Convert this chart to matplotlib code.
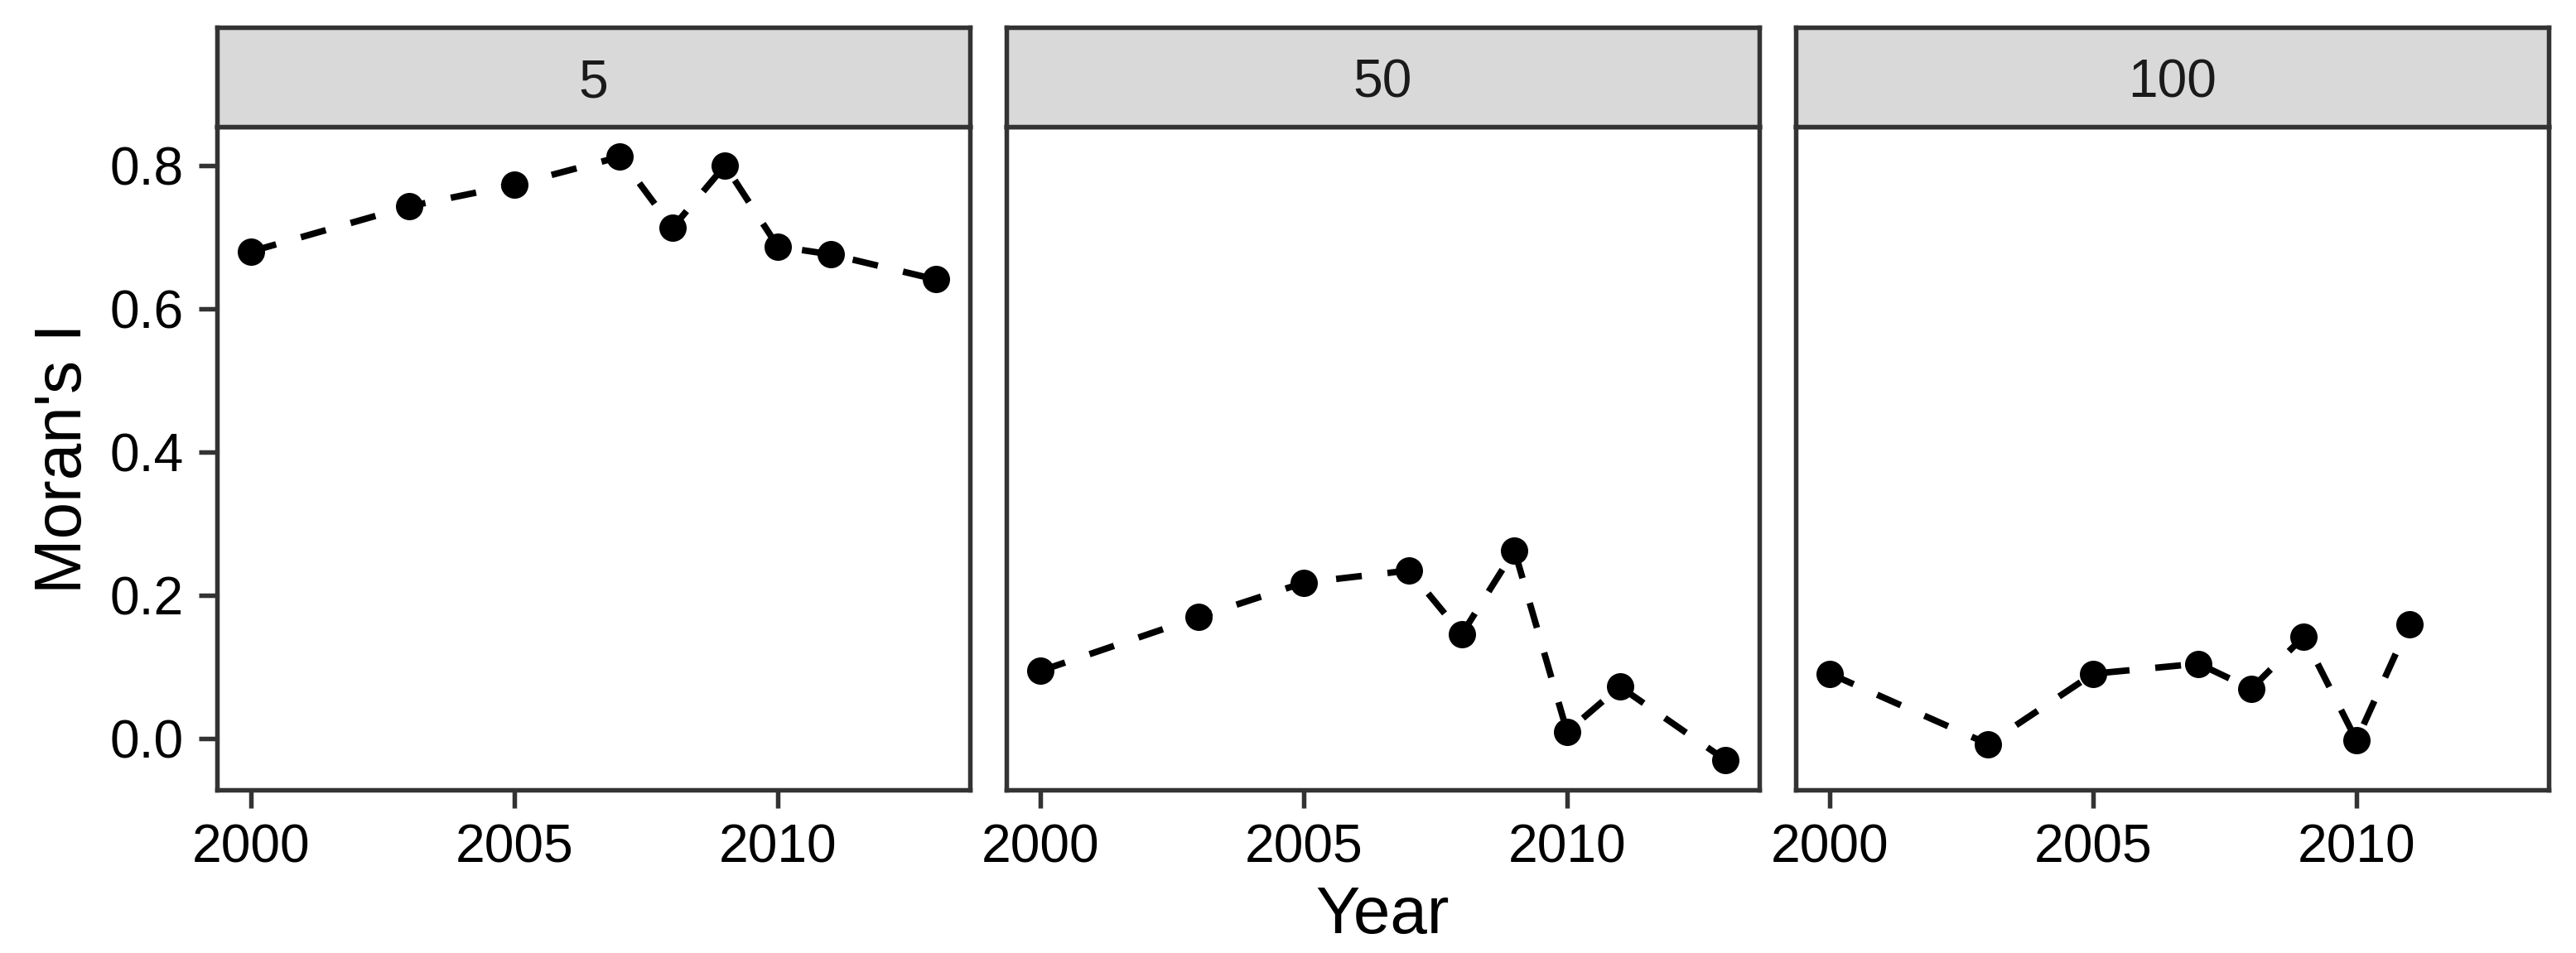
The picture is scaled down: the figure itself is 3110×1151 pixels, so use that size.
import matplotlib
matplotlib.use("Agg")
import matplotlib.pyplot as plt
from matplotlib.ticker import MultipleLocator, FormatStrFormatter

plt.rcParams['font.family'] = ['Liberation Sans', 'DejaVu Sans']

# ---- data ----
facets = ["5", "50", "100"]
years_5 = [2000, 2003, 2005, 2007, 2008, 2009, 2010, 2011, 2013]
moran_5 = [0.680, 0.743, 0.773, 0.812, 0.713, 0.800, 0.687, 0.676, 0.641]
years_50 = [2000, 2003, 2005, 2007, 2008, 2009, 2010, 2011, 2013]
moran_50 = [0.095, 0.170, 0.218, 0.235, 0.146, 0.263, 0.010, 0.073, -0.029]
years_100 = [2000, 2003, 2005, 2007, 2008, 2009, 2010, 2011]
moran_100 = [0.091, -0.007, 0.091, 0.105, 0.070, 0.143, -0.002, 0.160]
x_ticks = [2000, 2005, 2010]
y_ticks = [0.0, 0.2, 0.4, 0.6, 0.8]
x_label = "Year"
y_label = "Moran's I"

series = [(years_5, moran_5), (years_50, moran_50), (years_100, moran_100)]

W, H = 3110, 1151
DPI = 300
fig = plt.figure(figsize=(W / DPI, H / DPI), dpi=DPI)
fig.patch.set_facecolor('white')

border = '#333333'
strip_fill = '#D9D9D9'
px = 72.0 / DPI  # points per pixel

lefts = [262, 1215, 2168]
pw = 909
p_top, p_bot = 153, 954
s_top = 33

axes = []
for i, (xs, ys) in enumerate(series):
    l = lefts[i]
    rect = [l / W, (H - p_bot) / H, pw / W, (p_bot - p_top) / H]
    if i == 0:
        ax = fig.add_axes(rect)
    else:
        ax = fig.add_axes(rect, sharex=axes[0], sharey=axes[0])
    axes.append(ax)
    ax.plot(xs, ys, color='black', linewidth=7.8 * px, linestyle=(0, (4, 4)),
            marker='o', markersize=33 * px, markerfacecolor='black',
            markeredgewidth=0, zorder=3)
    for sp in ax.spines.values():
        sp.set_color(border)
        sp.set_linewidth(5.5 * px)
    ax.tick_params(axis='both', which='major', color=border, width=5.5 * px,
                   length=22 * px, labelsize=15.4, labelcolor='black', pad=18 * px)
    ax.grid(False)
    # strip
    sax = fig.add_axes([l / W, (H - p_top) / H, pw / W, (p_top - s_top) / H])
    sax.set_xlim(0, 1)
    sax.set_ylim(0, 1)
    sax.set_xticks([])
    sax.set_yticks([])
    sax.set_facecolor(strip_fill)
    for sp in sax.spines.values():
        sp.set_color(border)
        sp.set_linewidth(5.5 * px)
    sax.text(0.5, (p_top - 117) / (p_top - s_top), facets[i], ha='center',
             va='baseline', fontsize=15.4, color='#1A1A1A')

axes[0].margins(x=0.05, y=0.05)
axes[0].xaxis.set_major_locator(MultipleLocator(5))
axes[0].set_xticks(x_ticks)
axes[0].set_yticks(y_ticks)
axes[0].yaxis.set_major_formatter(FormatStrFormatter('%.1f'))
for ax in axes[1:]:
    ax.tick_params(axis='y', left=False, labelleft=False)

fig.text(98 / W, (H - (p_top + p_bot) / 2) / H, y_label, rotation=90,
         rotation_mode='anchor', ha='center', va='baseline', fontsize=19.2,
         color='black')
fig.text((262 + 3077) / 2 / W, (H - 1127) / H, x_label, ha='center',
         va='baseline', fontsize=19.2, color='black')

fig.savefig('out.png', dpi=DPI, facecolor='white')
